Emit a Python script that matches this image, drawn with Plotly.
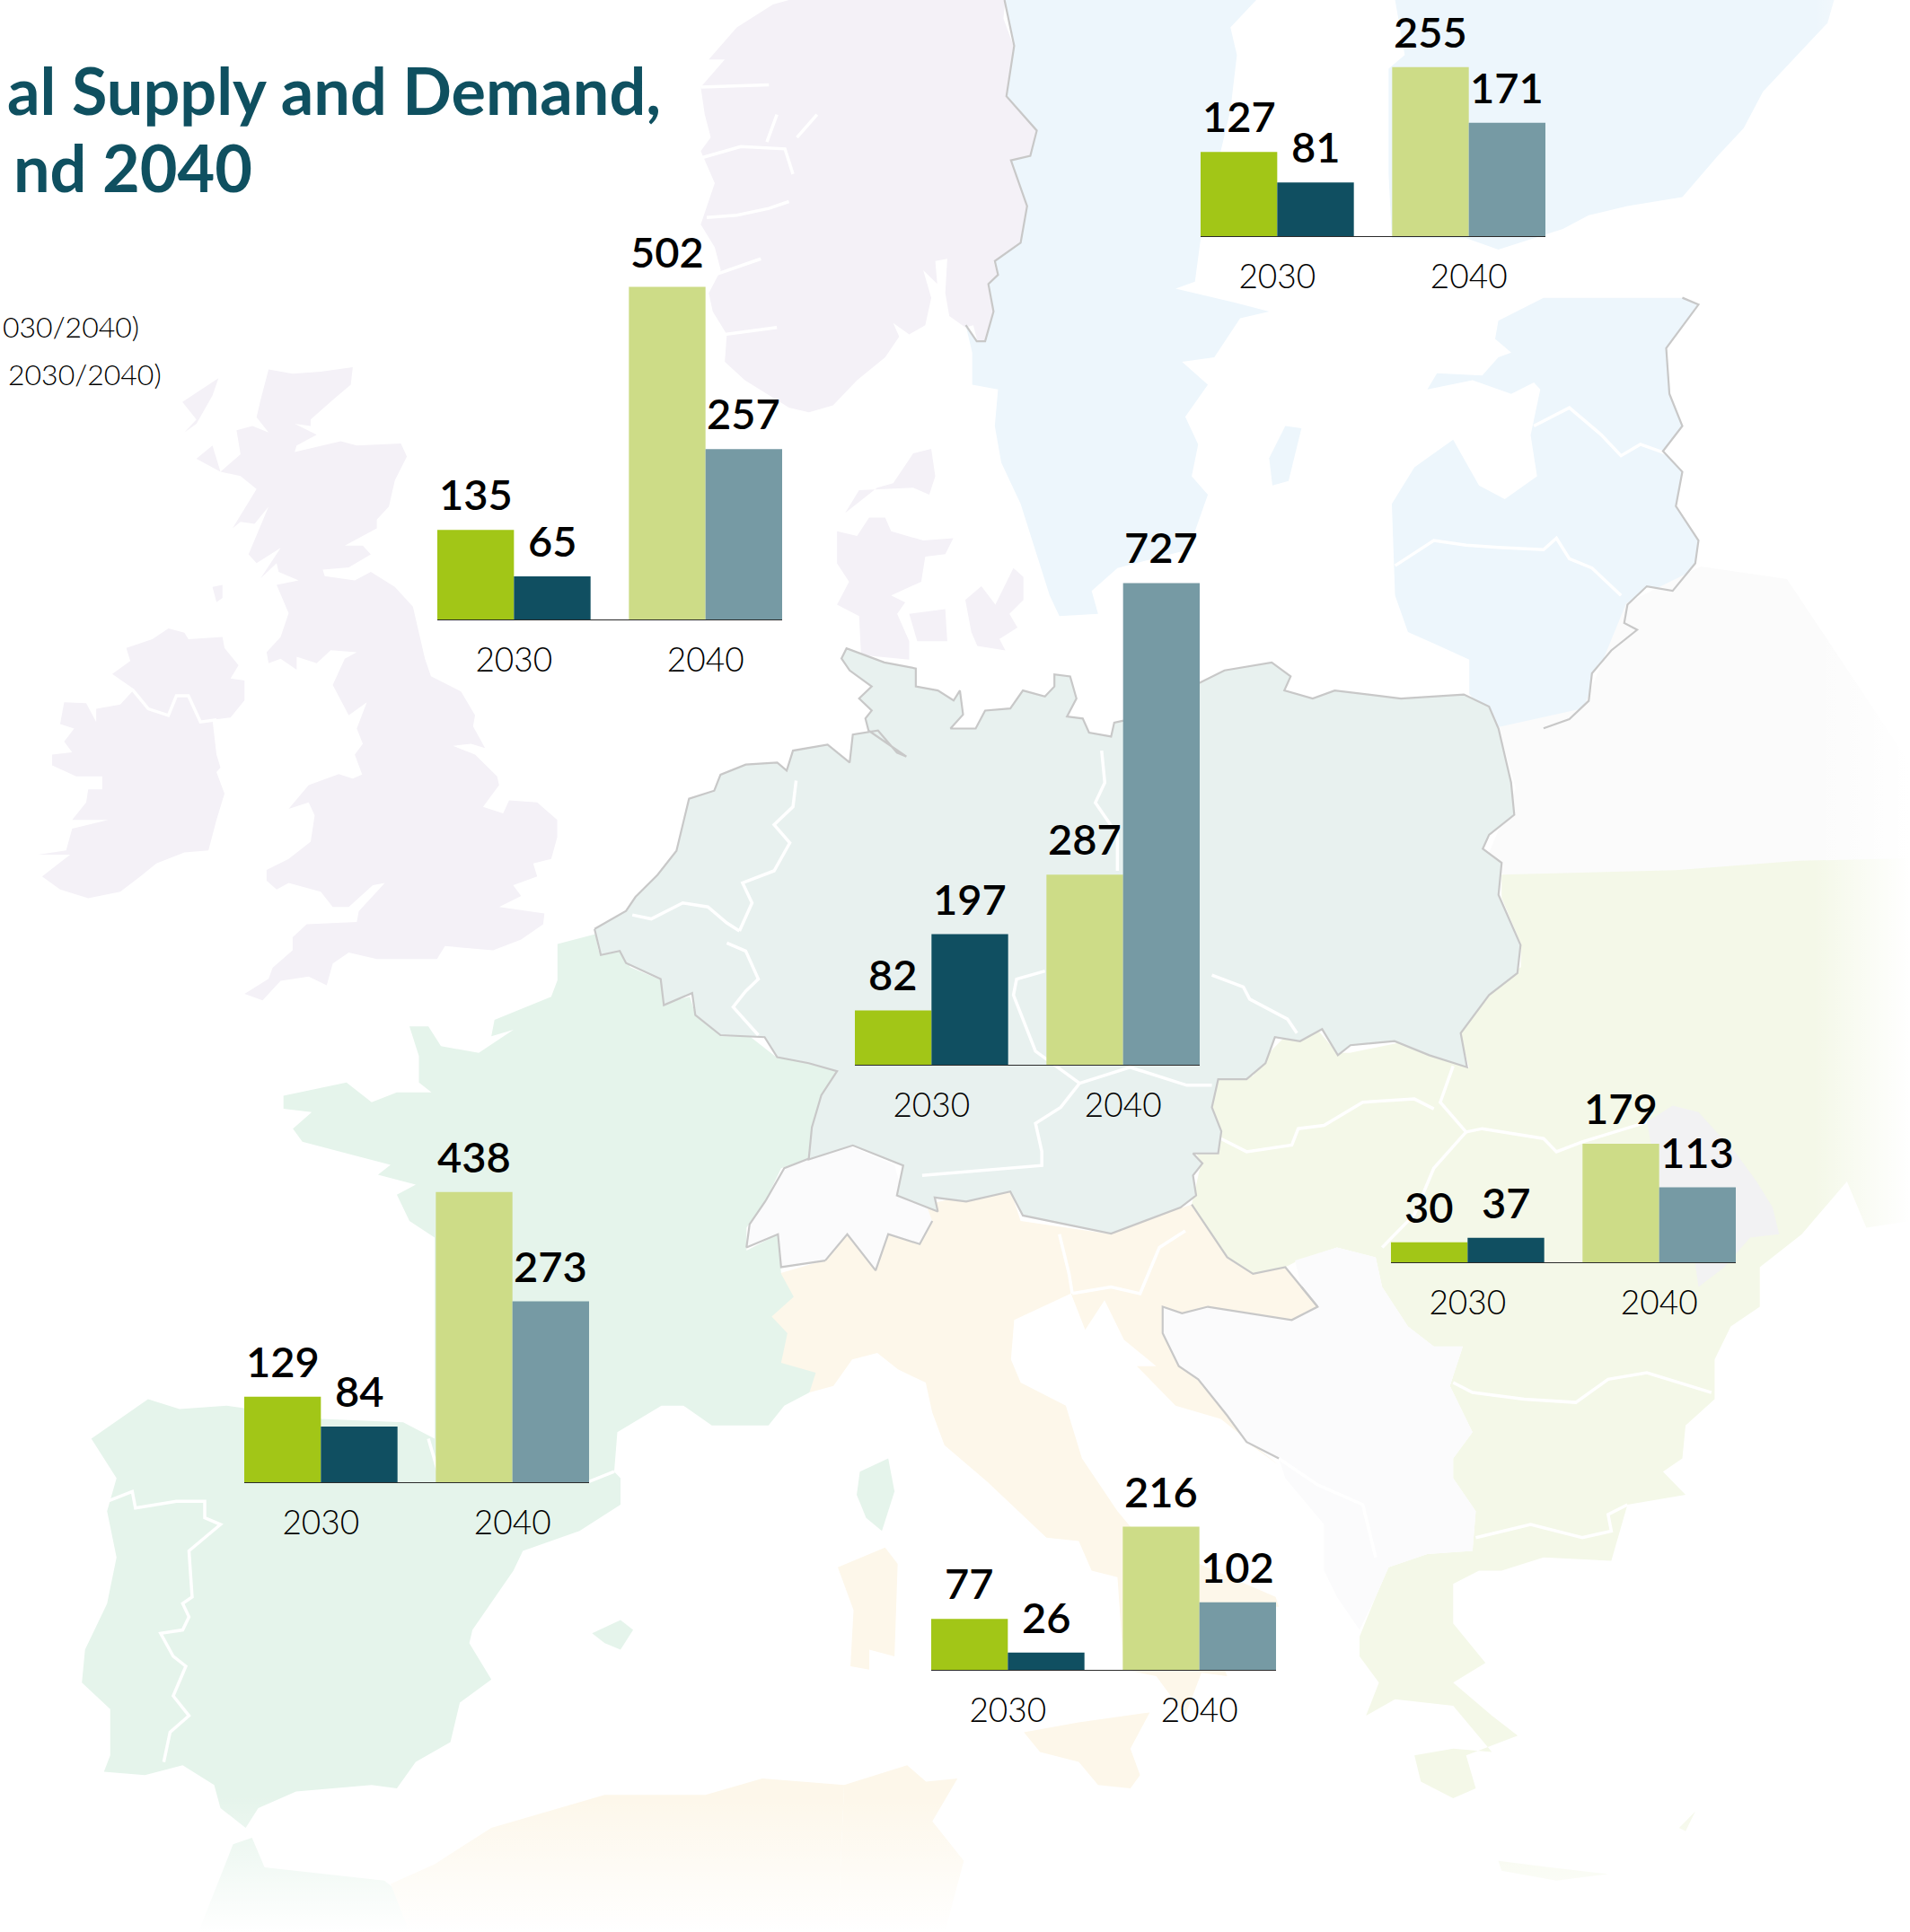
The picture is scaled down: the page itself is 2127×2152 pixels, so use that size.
import plotly.graph_objects as go

# ---------- chart data ----------
YEARS = ["2030", "2040"]
REGIONS = ["Nordics and Baltics", "UK and Ireland", "Central Europe", "France and Iberia", "Italy", "South East Europe"]
SUPPLY = [[127, 255], [135, 502], [82, 287], [129, 438], [77, 216], [30, 179]]
DEMAND = [[81, 171], [65, 257], [197, 727], [84, 273], [26, 102], [37, 113]]
SUPPLY_COLORS = ["#A2C617", "#CDDC87"]
DEMAND_COLORS = ["#104F61", "#769AA4"]
CHART_LEFT = [1337, 487, 952, 272, 1037, 1549]
CHART_BASE = [263, 690, 1186, 1651, 1860, 1406]
CHART_W = 384
PX_PER_UNIT = 0.738
W, H = 2127, 2152

NUM_FONT = dict(family="Lato, sans-serif", size=47, color="#000000", weight=600)
TICK_FONT = dict(family="Lato, sans-serif", size=37, color="#000000", weight=300)

# ---------- decorative map (frames: x0, y0, fx, fy) ----------
Z3 = (1000, 0, 1.391, 1.96)
Z4 = (0, 1000, 1.4255, 1.361)
Z5 = (1000, 1000, 1.391, 1.361)
Z6 = (0, 380, 2.24, 2.063)
Z7 = (700, 0, 2.24, 1.96)
Z8 = (620, 720, 1.4255, 2.24)

LAV, BLUE, CENT, GREEN, BEIGE, PALE, BALK, MOLD, FAINT = (
    "#F4F1F7", "#EDF6FC", "#E8F1EF", "#E5F4EB", "#FDF7EA", "#F4F8E8", "#FBFBFC", "#F2F2F3", "#FBFBFB")
GRAY = "#C8C8C8"

IRELAND = [(160,830),(215,832),(240,875),(240,845),(300,835),(335,800),(280,765),(325,735),(315,705),(380,685),(420,660),(460,670),(470,685),(555,680),(560,705),(595,745),(575,775),(610,780),(610,825),(575,865),(530,870),(540,950),(550,980),(540,990),(560,1040),(540,1100),(520,1170),(460,1175),(390,1200),(350,1230),(300,1265),(220,1280),(150,1260),(105,1230),(175,1180),(95,1180),(165,1170),(180,1120),(270,1100),(180,1100),(215,1060),(220,1030),(255,1030),(255,1000),(190,1000),(130,975),(130,950),(180,945),(160,920),(185,890),(150,880)]
GB = [(670,65),(730,75),(800,70),(880,60),(875,100),(830,135),(775,180),(775,195),(735,190),(790,215),(740,240),(735,255),(850,230),(890,240),(1000,235),(1015,265),(985,320),(970,380),(940,410),(940,430),(860,470),(905,470),(925,490),(870,520),(805,525),(810,540),(885,550),(925,530),(985,565),(1030,610),(1060,730),(1075,770),(1150,805),(1185,860),(1180,885),(1210,935),(1175,925),(1130,930),(1185,950),(1240,1000),(1245,1020),(1205,1070),(1255,1085),(1270,1055),(1340,1060),(1390,1100),(1390,1140),(1375,1190),(1330,1200),(1340,1230),(1280,1250),(1300,1275),(1245,1300),(1358,1315),(1355,1340),(1300,1375),(1230,1400),(1110,1390),(1090,1420),(1000,1420),(940,1420),(870,1405),(830,1430),(815,1480),(770,1460),(700,1470),(655,1515),(610,1500),(670,1465),(680,1440),(730,1400),(730,1370),(765,1340),(890,1335),(895,1310),(960,1245),(930,1250),(870,1300),(830,1300),(800,1265),(720,1245),(690,1260),(665,1240),(665,1215),(720,1190),(775,1150),(785,1090),(770,1060),(720,1075),(770,1020),(845,995),(880,1005),(930,985),(905,1000),(885,950),(905,925),(890,890),(915,830),(870,860),(830,790),(860,730),(890,715),(825,710),(790,740),(740,725),(740,755),(700,730),(670,740),(665,715),(700,680),(720,625),(690,560),(745,550),(695,530),(690,510),(650,545),(700,475),(640,510),(620,490),(670,380),(635,420),(600,415),(580,430),(640,340),(600,310),(550,300),(490,270),(530,240),(550,300),(600,260),(590,205),(630,195),(670,210),(640,175),(650,135),(660,100)]
HEBRIDES = [(455,140),(545,85),(530,125),(490,190),(460,210),(490,180)]
ISLAY = [(530,565),(555,560),(555,590),(540,600)]
NORWAY = [(940,0),(935,40),(960,100),(945,210),(985,240),(1022,285),(1000,340),(955,350),(985,420),(995,460),(985,530),(945,565),(910,570),(920,600),(895,620),(910,680),(890,745),(870,745),(860,710),(840,715),(800,690),(790,640),(795,565),(765,570),(770,620),(735,590),(755,650),(740,710),(700,730),(660,705),(675,735),(640,780),(570,830),(510,885),(450,900),(400,890),(345,860),(290,830),(240,790),(245,730),(210,680),(200,640),(230,590),(215,540),(180,490),(215,400),(180,330),(205,300),(190,250),(180,190),(240,130),(200,130),(270,60),(360,10),(400,0)]
JUTLAND = [(520,1160),(570,1170),(600,1130),(640,1130),(655,1160),(735,1180),(810,1175),(790,1210),(740,1215),(730,1270),(655,1300),(690,1315),(670,1340),(700,1400),(700,1440),(580,1430),(575,1345),(520,1320),(550,1270),(520,1230)]
VENDSYSSEL = [(540,1120),(575,1070),(710,1065),(750,1080),(765,1040),(755,980),(710,990),(660,1055),(620,1065)]
FYN = [(700,1340),(790,1330),(795,1400),(720,1400)]
ZEALAND = [(840,1310),(880,1280),(915,1320),(960,1240),(985,1260),(985,1310),(950,1340),(970,1370),(925,1395),(940,1420),(870,1410),(855,1380)]
SWEDEN = [(165,0),(180,100),(168,210),(215,285),(205,340),(175,350),(200,450),(190,530),(150,570),(155,600),(140,620),(148,680),(135,745),(122,745),(105,710),(115,770),(115,840),(155,850),(150,930),(160,1010),(190,1100),(235,1300),(250,1345),(310,1340),(300,1290),(340,1240),(450,1200),(480,1080),(455,1040),(465,970),(445,910),(480,840),(440,790),(490,780),(530,695),(575,680),(520,660),(430,630),(460,615),(469,520),(500,330),(515,240),(525,120),(515,60),(555,0)]
GOTLAND = [(575,1000),(600,930),(625,935),(605,1050),(580,1060)]
FINLAND = [(770,0),(785,120),(760,150),(760,380),(765,520),(880,520),(930,545),(1030,500),(1070,470),(1130,450),(1215,430),(1270,340),(1310,280),(1340,200),(1400,110),(1440,50),(1450,0)]
BALTICS = [(930,700),(1000,650),(1215,650),(1240,665),(1190,760),(1195,860),(1215,930),(1185,985),(1215,1030),(1205,1105),(1240,1180),(1235,1230),(1200,1290),(1160,1280),(1130,1320),(1125,1360),(1145,1375),(1105,1420),(1075,1470),(1070,1530),(1040,1570),(1000,1590),(930,1590),(885,1515),(885,1440),(830,1405),(790,1380),(770,1300),(765,1100),(800,1020),(860,960),(900,1060),(940,1090),(990,1040),(980,950),(995,850),(985,835),(950,860),(890,830),(820,850),(835,815),(905,820),(930,780),(950,770),(925,740)]
BELARUS = [(1668,810),(1763,789),(1811,672),(1894,631),(1990,645),(2072,768),(2127,851),(2127,960),(2003,974),(1866,988),(1674,974),(1654,960),(1688,878)]
IBERIA_FRANCE = [(885,70),(945,55),(950,80),(990,80),(1000,105),(1050,125),(1055,160),(1095,150),(1105,180),(1145,210),(1190,210),(1230,240),(1280,245),(1330,262),(1300,310),(1290,350),(1285,395),(1240,410),(1215,460),(1185,500),(1185,535),(1235,510),(1240,570),(1260,605),(1225,635),(1250,660),(1240,705),(1295,720),(1285,750),(1245,770),(1220,800),(1130,800),(1085,770),(1050,770),(980,810),(975,870),(985,880),(985,920),(920,960),(830,990),(815,1020),(750,1110),(745,1130),(780,1185),(730,1220),(715,1280),(660,1310),(630,1350),(590,1345),(470,1355),(410,1380),(390,1410),(350,1380),(340,1345),(290,1315),(230,1330),(165,1325),(175,1300),(175,1230),(130,1190),(135,1140),(170,1070),(185,1000),(170,930),(185,880),(145,820),(235,760),(285,775),(360,770),(510,790),(640,795),(690,820),(690,720),(690,515),(650,490),(630,450),(660,435),(600,420),(620,405),(560,390),(480,370),(465,350),(495,325),(450,320),(450,300),(550,280),(590,310),(630,295),(685,295),(665,280),(665,240),(650,195),(680,195),(700,225),(760,235),(815,200),(780,210),(785,185),(875,150),(885,125)]
CORSICA = [(1365,870),(1410,850),(1420,900),(1400,960),(1375,940),(1360,905)]
MALLORCA = [(940,1115),(985,1095),(1005,1110),(985,1140),(960,1130)]
MOROCCO = [(370,1435),(400,1425),(420,1470),(610,1490),(650,1520),(650,1568),(315,1568)]
ALGERIA = [(620,1495),(690,1465),(780,1410),(960,1360),(1120,1360),(1210,1335),(1340,1345),(1330,1568),(650,1568)]
TUNISIA = [(1340,1345),(1440,1315),(1470,1340),(1520,1335),(1480,1400),(1530,1460),(1500,1568),(1330,1568)]
SARDINIA = [(1330,1015),(1405,985),(1425,1010),(1420,1150),(1380,1140),(1380,1170),(1350,1165),(1355,1080)]
SWISS = [(1245,410),(1285,395),(1345,375),(1420,405),(1430,440),(1470,465),(1480,490),(1460,525),(1410,510),(1390,565),(1345,510),(1310,550),(1240,560),(1235,510),(1185,530),(1190,495),(1215,460)]
CENTRAL = [(60,705),(110,660),(125,625),(160,570),(190,510),(210,380),(250,360),(260,320),(300,295),(350,290),(365,310),(375,260),(430,245),(465,290),(470,220),(510,210),(540,265),(555,275),(495,210),(490,180),(500,160),(480,130),(500,100),(465,60),(452,30),(460,5),(520,40),(570,55),(570,100),(605,110),(630,135),(640,110),(645,170),(625,205),(665,205),(680,160),(720,155),(740,110),(775,125),(790,100),(790,70),(815,75),(825,130),(810,175),(835,180),(845,215),(880,225),(885,190),(900,185),(1020,90),(1060,60),(1135,40),(1165,75),(1155,110),(1200,130),(1235,110),(1340,130),(1440,120),(1480,150),(1495,205),(1515,340),(1520,420),(1480,470),(1470,505),(1500,540),(1495,620),(1530,745),(1525,815),(1480,870),(1435,965),(1445,1050),(1385,1020),(1330,985),(1260,995),(1240,1020),(1215,955),(1180,985),(1140,975),(1125,1040),(1095,1080),(1050,1080),(1040,1150),(1055,1210),(1050,1265),(1010,1265),(1025,1290),(1010,1320),(1015,1370),(990,1400),(880,1465),(800,1440),(740,1420),(720,1360),(650,1385),(600,1375),(605,1410),(540,1370),(550,1295),(470,1245),(400,1280),(405,1200),(420,1120),(445,1060),(400,1040),(350,1025),(330,975),(260,970),(220,920),(215,865),(170,895),(165,830),(110,790),(100,760),(70,770)]
SE_MAIN = [(1568,-60),(1395,-56),(1205,-42),(935,-35),(935,0),(965,70),(965,105),(940,120),(870,205),(885,258),(830,240),(800,215),(700,235),(680,235),(650,200),(600,210),(575,235),(550,270),(490,275),(485,320),(500,365),(460,385),(470,400),(455,465),(510,545),(550,570),(600,560),(620,550),(680,530),(740,545),(750,590),(790,650),(830,680),(875,680),(855,740),(890,810),(860,850),(860,880),(895,930),(890,990),(820,995),(760,1015),(740,1060),(715,1120),(715,1150),(745,1190),(725,1240),(770,1215),(860,1225),(920,1295),(860,1290),(800,1300),(810,1340),(860,1365),(895,1350),(880,1300),(960,1270),(920,1240),(860,1190),(910,1160),(860,1100),(860,1040),(900,1020),(935,1020),(1000,1000),(1105,1005),(1130,920),(1220,905),(1185,870),(1215,850),(1220,800),(1265,760),(1265,700),(1290,650),(1335,620),(1335,560),(1400,510),(1470,430),(1500,500),(1568,490)]
CRETE = [(930,1460),(1010,1470),(1100,1480),(1020,1490),(935,1475)]
LESBOS = [(1210,1410),(1235,1385),(1220,1415)]
MOLDOVA = [(1160,340),(1200,315),(1240,325),(1300,390),(1330,430),(1355,470),(1365,510),(1320,515),(1280,560),(1240,590),(1235,555),(1200,530),(1180,440)]
BALKANS = [(615,550),(680,530),(740,545),(750,590),(790,650),(830,680),(875,680),(855,740),(890,810),(860,850),(860,880),(895,930),(890,990),(820,995),(760,1015),(740,1060),(715,1110),(680,1060),(660,1020),(660,950),(600,880),(590,850),(540,825),(510,785),(465,730),(435,710),(410,660),(410,620),(440,630),(480,620),(610,640),(650,620),(625,590)]
ITALY = [(-137,750),(-130,720),(-185,705),(-175,660),(-200,635),(-165,605),(-185,570),(-115,550),(-80,510),(-35,565),(-15,510),(35,525),(45,465),(110,450),(175,445),(190,490),(330,510),(350,490),(440,470),(455,465),(510,545),(550,570),(600,560),(625,590),(650,620),(610,640),(480,620),(440,630),(410,620),(410,660),(435,710),(465,730),(510,785),(540,825),(590,860),(500,790),(430,770),(370,710),(400,710),(350,670),(320,610),(290,655),(268,600),(180,640),(175,700),(190,735),(260,770),(285,850),(340,930),(400,1000),(467,1010),(585,1060),(590,1075),(470,1075),(510,1180),(470,1175),(445,1240),(400,1180),(350,1170),(340,1030),(300,1020),(280,975),(230,970),(138,885),(72,830),(53,780),(43,735),(0,715),(-32,690),(-71,700),(-100,740)]
SICILY = [(195,1265),(280,1250),(390,1235),(360,1290),(375,1330),(360,1350),(310,1345),(280,1310),(220,1295)]

FILLS = [
    (IRELAND, Z6, LAV), (GB, Z6, LAV), (HEBRIDES, Z6, LAV), (ISLAY, Z6, LAV),
    (NORWAY, Z7, LAV), (JUTLAND, Z7, LAV), (VENDSYSSEL, Z7, LAV), (FYN, Z7, LAV), (ZEALAND, Z7, LAV),
    (SWEDEN, Z3, BLUE), (GOTLAND, Z3, BLUE), (FINLAND, Z3, BLUE), (BALTICS, Z3, BLUE),
    (BELARUS, (0, 0, 1, 1), FAINT),
    (SE_MAIN, Z5, PALE), (CRETE, Z5, PALE), (LESBOS, Z5, PALE), (MOLDOVA, Z5, MOLD),
    (ITALY, Z5, BEIGE), (SICILY, Z5, BEIGE), (SARDINIA, Z4, BEIGE), (BALKANS, Z5, BALK),
    (IBERIA_FRANCE, Z4, GREEN), (CORSICA, Z4, GREEN), (MALLORCA, Z4, GREEN), (MOROCCO, Z4, GREEN),
    (ALGERIA, Z4, BEIGE), (TUNISIA, Z4, BEIGE), (SWISS, Z4, BALK), (CENTRAL, Z8, CENT),
]
WHITE_LINES = [
    ([(330,800),(370,845),(420,860),(440,815),(470,815),(500,875),(540,870)], Z6),
    ([(180,345),(280,320),(390,325),(410,380)], Z7), ([(420,300),(470,250)], Z7), ([(195,475),(270,470),(350,455),(400,440)], Z7),
    ([(345,310),(370,250)], Z7), ([(215,600),(330,565)], Z7), ([(240,730),(370,715)], Z7), ([(180,190),(350,185)], Z7),
    ([(985,930),(1040,890),(1090,950),(1120,995),(1150,970),(1190,990)], Z3),
    ([(770,1235),(830,1180),(880,1190),(930,1195),(1000,1200),(1020,1175),(1040,1220),(1075,1240),(1120,1300)], Z3),
    ([(170,915),(210,900),(215,925),(280,915),(325,915),(325,940),(350,950),(300,990),(305,1060),(290,1070),(300,1090),(290,1110),(255,1115),(275,1150),(295,1165),(275,1210),(300,1240),(270,1265),(260,1310)], Z4),
    ([(680,820),(700,885),(935,885),(975,870)], Z4),
    ([(380,335),(375,400),(345,445),(370,490),(345,560),(295,590),(310,640),(290,710)], Z8),
    ([(120,670),(150,680),(200,640),(240,650),(270,690),(290,710)], Z8),
    ([(270,740),(300,760),(320,830),(300,860),(280,900),(320,970)], Z8),
    ([(775,810),(730,830),(725,870),(745,950),(760,1010),(830,1090),(800,1150),(760,1190),(770,1260),(770,1295),(650,1310),(580,1320)], Z8),
    ([(1040,820),(1090,850),(1100,880),(1160,930),(1175,965)], Z8),
    ([(830,1090),(910,1050),(1000,1095),(1040,1095)], Z8),
    ([(865,260),(870,340),(855,390),(890,470),(890,560)], Z8),
    ([(500,365),(540,385),(610,375),(620,350),(660,345),(720,310),(800,305),(830,320)], Z5),
    ([(860,255),(840,310),(880,355)], Z5),
    ([(880,355),(830,410),(800,480),(750,530)], Z5),
    ([(880,355),(905,350),(1000,365),(1020,385),(1060,370),(1160,340)], Z5),
    ([(860,735),(890,750),(970,760),(1050,765),(1100,730),(1160,720),(1260,750)], Z5),
    ([(895,970),(980,950),(1060,970),(1105,960),(1100,935),(1130,920)], Z5),
    ([(250,510),(265,570),(270,600)], Z5),
    ([(270,600),(330,590),(375,600),(405,530),(445,505)], Z5),
    ([(590,850),(650,890),(720,920),(740,1000)], Z5),
]
GRAY_LINES = [
    (CENTRAL + CENTRAL[:1], Z8),
    (SWISS[11:] + SWISS[:2], Z4), (SWISS[6:12], Z4),
    (SWEDEN[:15], Z3),
    (BALTICS[2:22], Z3),
    (BALKANS[21:33], Z5),
    ([(455,465),(510,545),(550,570),(600,560),(625,590),(650,620)], Z5),
]

def place(points, frame):
    x0, y0, fx, fy = frame
    return [x0 + p[0] / fx for p in points], [y0 + p[1] / fy for p in points]

fig = go.Figure()
for pts, frame, color in FILLS:
    xs, ys = place(pts, frame)
    fig.add_trace(go.Scatter(x=xs, y=ys, fill="toself", fillcolor=color, mode="none",
                             hoverinfo="skip", showlegend=False))
for pts, frame in WHITE_LINES:
    xs, ys = place(pts, frame)
    fig.add_trace(go.Scatter(x=xs, y=ys, mode="lines", line=dict(color="#FFFFFF", width=3.5),
                             hoverinfo="skip", showlegend=False))
for pts, frame in GRAY_LINES:
    xs, ys = place(pts, frame)
    fig.add_trace(go.Scatter(x=xs, y=ys, mode="lines", line=dict(color=GRAY, width=2.2),
                             hoverinfo="skip", showlegend=False))
# fades to white at right and bottom edges
fig.add_trace(go.Scatter(x=[2020, W, W, 2020], y=[0, 0, H, H], fill="toself", mode="none",
                         fillgradient=dict(type="horizontal", colorscale=[[0, "rgba(255,255,255,0)"], [1, "rgba(255,255,255,1)"]]),
                         hoverinfo="skip", showlegend=False))
fig.add_trace(go.Scatter(x=[0, W, W, 0], y=[2000, 2000, H, H], fill="toself", mode="none",
                         fillgradient=dict(type="vertical", colorscale=[[0, "rgba(255,255,255,1)"], [1, "rgba(255,255,255,0)"]]),
                         hoverinfo="skip", showlegend=False))

layout = dict(
    width=W, height=H, margin=dict(l=0, r=0, t=0, b=0, pad=0), autosize=False,
    paper_bgcolor="#FFFFFF", plot_bgcolor="rgba(0,0,0,0)", showlegend=False,
    barmode="group", bargap=0.2, bargroupgap=0,
    xaxis=dict(range=[0, W], visible=False, domain=[0, 1]),
    yaxis=dict(range=[H, 0], visible=False, domain=[0, 1]),
)
annotations = []
for i, region in enumerate(REGIONS):
    n = i + 2
    xa, ya = f"x{n}", f"y{n}"
    left, base = CHART_LEFT[i], CHART_BASE[i]
    layout[f"xaxis{n}"] = dict(
        domain=[left / W, (left + CHART_W) / W], anchor=ya, type="category",
        categoryorder="array", categoryarray=YEARS, range=[-0.4, 1.4], showgrid=False, zeroline=False,
        showline=True, linecolor="#2A2A2A", linewidth=1, ticks="outside", ticklen=13,
        tickcolor="rgba(0,0,0,0)", tickfont=TICK_FONT, fixedrange=True)
    layout[f"yaxis{n}"] = dict(
        domain=[1 - base / H, 1], anchor=xa, range=[0, base / PX_PER_UNIT], visible=False, fixedrange=True)
    fig.add_trace(go.Bar(x=YEARS, y=SUPPLY[i], name=f"{region} supply", marker=dict(color=SUPPLY_COLORS, line_width=0),
                         xaxis=xa, yaxis=ya, showlegend=False))
    fig.add_trace(go.Bar(x=YEARS, y=DEMAND[i], name=f"{region} demand", marker=dict(color=DEMAND_COLORS, line_width=0),
                         xaxis=xa, yaxis=ya, showlegend=False))
    for k in range(2):
        for off, val in ((-0.2, SUPPLY[i][k]), (0.2, DEMAND[i][k])):
            annotations.append(dict(x=k + off, y=val, xref=xa, yref=ya, text=str(val), showarrow=False,
                                    xanchor="center", yanchor="bottom", yshift=10, font=NUM_FONT))

TITLE_FONT = dict(family="Lato, sans-serif", size=72, color="#0F5060", weight=700)
LEG_FONT = dict(family="Lato, sans-serif", size=32, color="#000000", weight=300)
for text, px, py, font in [
    ("al Supply and Demand,", 738, 100, TITLE_FONT),
    ("nd 2040", 283, 186, TITLE_FONT),
    ("030/2040)", 157, 364, LEG_FONT),
    ("2030/2040)", 182, 417, LEG_FONT),
]:
    annotations.append(dict(x=px / W, y=1 - py / H, xref="paper", yref="paper", text=text, showarrow=False,
                            xanchor="right", yanchor="middle", font=font))
layout["annotations"] = annotations
fig.update_layout(**layout)
fig.write_html("out.html", config=dict(displayModeBar=False), post_script="document.body.style.margin='0';")
